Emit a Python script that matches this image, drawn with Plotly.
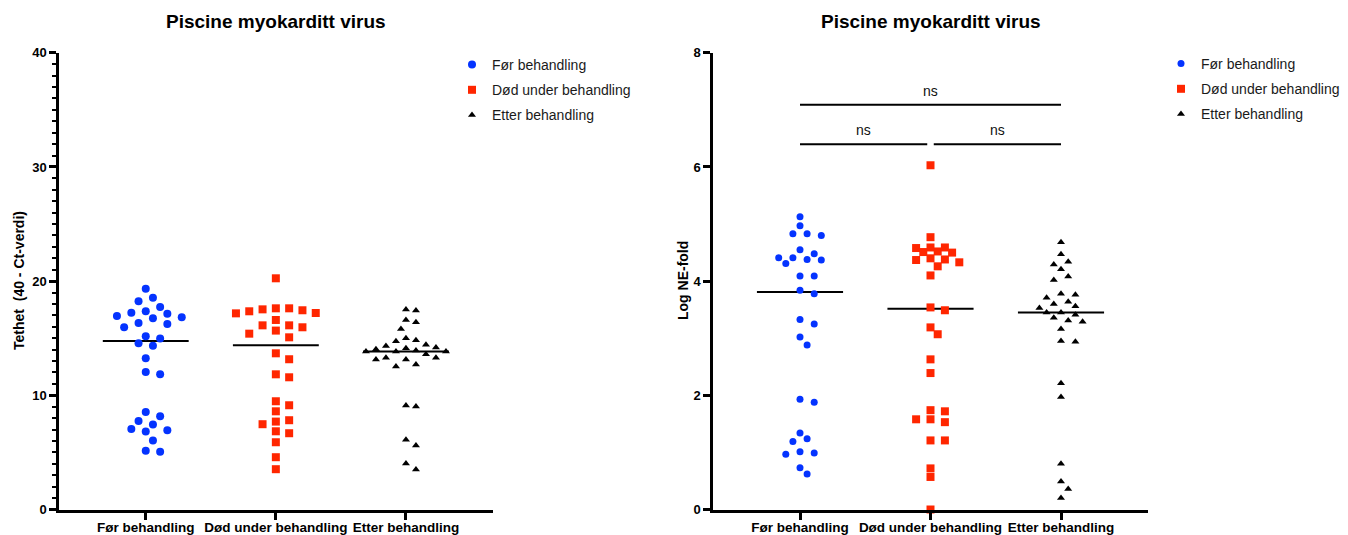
import numpy as np
import plotly.graph_objects as go

# ---------------------------------------------------------------- data
groups = ["Før behandling", "Død under behandling", "Etter behandling"]

# Tethet (40 - Ct-verdi)
tethet_for = [19.34, 18.55, 18.23, 17.74, 17.24, 17.15, 17.36, 16.75, 16.83, 16.95,
              16.34, 16.25, 15.96, 14.97, 15.17, 14.56, 14.35, 13.24, 12.05, 11.84,
              8.55, 8.17, 7.44, 7.76, 7.06, 6.83, 6.94, 6.04, 5.05, 5.14]
tethet_dod = [20.25, 17.62, 17.45, 17.21, 16.60, 17.18, 17.53, 17.36, 17.62, 15.67,
              15.96, 16.13, 15.40, 16.13, 15.08, 13.68, 13.16, 11.58, 11.84, 9.48,
              9.13, 8.60, 7.70, 7.82, 7.47, 6.85, 6.68, 5.89, 4.58, 3.53]
tethet_etter = [17.42, 17.51, 16.60, 16.40, 15.82, 14.82, 14.99, 14.73, 14.33, 14.44,
                14.18, 13.83, 14.12, 13.83, 13.92, 14.03, 13.83, 13.59, 13.13, 13.30,
                13.13, 13.30, 12.52, 12.69, 9.02, 9.10, 5.60, 6.10, 3.50, 4.03]

# Log NE-fold
ne_for = [5.13, 4.97, 4.83, 4.83, 4.80, 4.55, 4.41, 4.48, 4.37, 4.38,
          4.41, 4.31, 4.09, 4.09, 3.84, 3.78, 3.33, 3.25, 3.02, 2.88,
          1.88, 1.93, 1.34, 1.19, 1.24, 0.99, 1.01, 0.97, 0.62, 0.73]
ne_dod = [6.03, 4.77, 4.59, 4.58, 4.51, 4.38, 4.26, 4.50, 4.37, 4.52,
          4.40, 4.59, 4.33, 4.10, 3.49, 3.54, 3.19, 3.07, 2.63, 2.39,
          1.72, 1.74, 1.58, 1.58, 1.53, 1.21, 1.21, 0.72, 0.57, 0.00]
ne_etter = [4.68, 4.47, 4.34, 4.29, 4.21, 4.08, 4.02, 3.78, 3.76, 3.71,
            3.64, 3.60, 3.56, 3.53, 3.45, 3.45, 3.41, 3.36, 3.29, 3.31,
            3.16, 2.94, 2.95, 2.21, 1.97, 0.80, 0.49, 0.36, 0.20]

significance = ["ns", "ns", "ns"]

# ---------------------------------------------------------------- geometry
W, H = 1348, 535
TOP, BOTTOM = 52.8, 509.5
LEFT_X = (59, 492.7)
RIGHT_X = (713, 1148)
XR = [-2 / 3, 2 + 2 / 3]
ydom = [(H - BOTTOM) / H, (H - TOP) / H]

FONT = "Liberation Sans, Arial, Helvetica, sans-serif"
BLUE, RED, BLACK = "#0433FF", "#FF2600", "#000000"


def swarm(values, px_y, px_x, step, min_dist):
    """Beeswarm offsets (in category units) on a grid of `step` pixels."""
    vals = np.asarray(values, dtype=float)
    order = np.argsort(-vals, kind="stable")
    placed = []
    offs = np.zeros(len(vals))
    cands = [0]
    for k in range(1, 40):
        cands += [k, -k]
    for i in order:
        y = vals[i] * px_y
        for k in cands:
            x = k * step
            if all((x - xp) ** 2 + (y - yp) ** 2 >= min_dist ** 2 for xp, yp in placed):
                break
        placed.append((x, y))
        offs[i] = x / px_x
    return offs


fig = go.Figure()

panels = [
    dict(xa="x", ya="y", leg="legend", xpx=LEFT_X, yrange=(0, 40),
         series=[(tethet_for, BLUE, "circle", 8, 7.2, 9.5),
                 (tethet_dod, RED, "square", 8, 13.3, 9.0),
                 (tethet_etter, BLACK, "triangle-up", 7, 5.0, 9.5)]),
    dict(xa="x2", ya="y2", leg="legend2", xpx=RIGHT_X, yrange=(0, 8),
         series=[(ne_for, BLUE, "circle", 7, 7.1, 9.0),
                 (ne_dod, RED, "square", 8, 7.2, 8.0),
                 (ne_etter, BLACK, "triangle-up", 7, 7.2, 8.5)]),
]

for p in panels:
    px_x = (p["xpx"][1] - p["xpx"][0]) / (XR[1] - XR[0])
    px_y = (BOTTOM - TOP) / (p["yrange"][1] - p["yrange"][0])
    # median lines
    for gi, (vals, col, sym, size, step, md) in enumerate(p["series"]):
        med = float(np.median(vals))
        fig.add_trace(go.Scatter(
            x=[gi - 0.33, gi + 0.33], y=[med, med], mode="lines",
            line=dict(color="black", width=2), showlegend=False,
            hoverinfo="skip", xaxis=p["xa"], yaxis=p["ya"]))
    # points
    for gi, (vals, col, sym, size, step, md) in enumerate(p["series"]):
        offs = swarm(vals, px_y, px_x, step, md)
        fig.add_trace(go.Scatter(
            x=gi + offs, y=vals, mode="markers", name=groups[gi],
            marker=dict(color=col, symbol=sym, size=size, line=dict(width=0)),
            cliponaxis=False, legend=p["leg"], legendgroup=f"{p['leg']}{gi}",
            xaxis=p["xa"], yaxis=p["ya"]))

# significance brackets (right panel)
brackets = [(0, 2, 7.09, 7.33), (0, 0.975, 6.40, 6.65), (1.025, 2, 6.40, 6.65)]
for (x0, x1, yl, yt), lab in zip(brackets, significance):
    fig.add_shape(type="line", xref="x2", yref="y2", x0=x0, x1=x1, y0=yl, y1=yl,
                  line=dict(color="black", width=2))
    fig.add_annotation(xref="x2", yref="y2", x=(x0 + x1) / 2, y=yt, text=lab,
                       showarrow=False, font=dict(family=FONT, size=14, color="#111"))

tickfont = dict(family=FONT, size=13, color="black", weight="bold")
xcommon = dict(range=XR, tickvals=[0, 1, 2], ticktext=groups, showline=True,
               linecolor="black", linewidth=2.5, ticks="outside", ticklen=8,
               tickwidth=2.5, tickcolor="black", showgrid=False, zeroline=False,
               automargin=False, ticklabelstandoff=-4,
               tickfont=dict(family=FONT, size=13.5, color="black", weight="bold"))
ycommon = dict(showline=True, linecolor="black", linewidth=2.5, ticks="outside",
               ticklen=7, tickwidth=2.5, tickcolor="black", showgrid=False,
               zeroline=False, tickfont=tickfont, domain=ydom, automargin=False)

fig.update_layout(
    width=W, height=H, margin=dict(l=0, r=0, t=0, b=0, autoexpand=False),
    paper_bgcolor="white", plot_bgcolor="white", showlegend=True,
    xaxis=dict(domain=[LEFT_X[0] / W, LEFT_X[1] / W], anchor="y", **xcommon),
    xaxis2=dict(domain=[RIGHT_X[0] / W, RIGHT_X[1] / W], anchor="y2", **xcommon),
    yaxis=dict(range=[0, 40], tickvals=[0, 10, 20, 30, 40], anchor="x",
               minor=dict(dtick=1, ticks="outside", ticklen=4, tickwidth=2,
                          tickcolor="black", showgrid=False), **ycommon),
    yaxis2=dict(range=[0, 8], tickvals=[0, 2, 4, 6, 8], anchor="x2", **ycommon),
    legend=dict(x=452 / W, y=1 - 49 / H, xanchor="left", yanchor="top",
                bgcolor="rgba(0,0,0,0)", tracegroupgap=4,
                font=dict(family=FONT, size=14, color="#1a1a1a")),
    legend2=dict(x=1161 / W, y=1 - 48 / H, xanchor="left", yanchor="top",
                 bgcolor="rgba(0,0,0,0)", tracegroupgap=4,
                 font=dict(family=FONT, size=14, color="#1a1a1a")),
)

# titles and y-axis titles
for cx in [(LEFT_X[0] + LEFT_X[1]) / 2, (RIGHT_X[0] + RIGHT_X[1]) / 2]:
    fig.add_annotation(xref="paper", yref="paper", x=cx / W, y=1 - 21 / H,
                       text="Piscine myokarditt virus", showarrow=False,
                       xanchor="center", yanchor="middle",
                       font=dict(family=FONT, size=19, color="black", weight="bold"))
for cx, txt in [(19, "Tethet\u00a0 (40 - Ct-verdi)"), (683, "Log NE-fold")]:
    fig.add_annotation(xref="paper", yref="paper", x=cx / W, y=1 - 281 / H,
                       text=txt, textangle=-90, showarrow=False,
                       xanchor="center", yanchor="middle",
                       font=dict(family=FONT, size=14, color="black", weight="bold"))

fig.write_html("out.html")
